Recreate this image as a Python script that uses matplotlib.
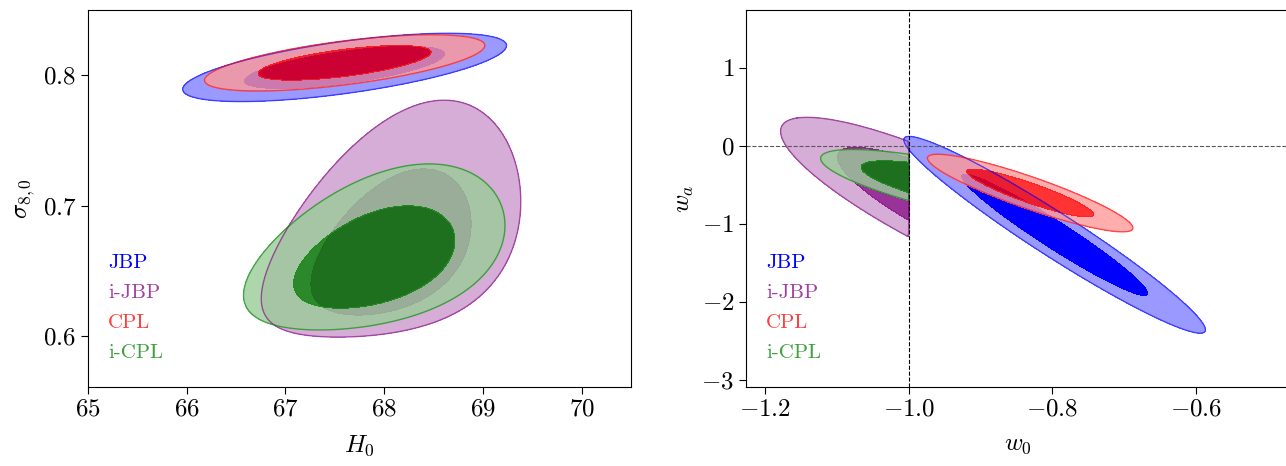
import numpy as np
import matplotlib.pyplot as plt
from matplotlib.colors import to_rgb

plt.rcParams['font.family'] = 'serif'
plt.rcParams['font.serif'] = ['cmr10']
plt.rcParams['mathtext.fontset'] = 'cm'
plt.rcParams['axes.formatter.use_mathtext'] = True

# models (legend order) and the order they are stacked in
labels = ['JBP', 'i-JBP', 'CPL', 'i-CPL']
colors = ['blue', 'purple', 'red', 'green']
draw_order = [1, 3, 0, 2]
conf_levels = [0.68, 0.95]

# H0 - sigma8 posteriors (gaussian approx: mean, sigma, correlation, skew in sigma8)
h0_mean = [67.6, 68.07, 67.6, 67.9]
h0_sig = [0.67, 0.537, 0.58, 0.541]
s8_mean = [0.806, 0.666, 0.8095, 0.658]
s8_sig = [0.0107, 0.0371, 0.0088, 0.026]
h0_s8_corr = [0.64, 0.41, 0.62, 0.42]
s8_skew = [0.0, 0.13, 0.0, 0.08]

# w0 - wa posteriors, i-models have the prior w0 < -1
w0_mean = [-0.797, -0.923, -0.831, -0.925]
w0_sig = [0.0857, 0.094, 0.0584, 0.0698]
wa_mean = [-1.14, -0.876, -0.605, -0.555]
wa_sig = [0.515, 0.457, 0.203, 0.1795]
w0_wa_corr = [-0.965, -0.856, -0.90, -0.775]
w0_upper = [None, -1.0, None, -1.0]


def posterior_grid(mx, sx, my, sy, rho, skew=0.0, xmax=None):
    a, b = np.meshgrid(np.linspace(-4.5, 4.5, 700), np.linspace(-4.5, 4.5, 700))
    X = mx + sx * (rho * a + np.sqrt(1 - rho**2) * b)
    Y = my + sy * (a + skew * (a**2 - 1))
    P = np.exp(-0.5 * (a**2 + b**2))
    if xmax is not None:
        P[X > xmax] = 0
    # density thresholds that enclose 68% and 95% of the mass
    p = np.sort(P.ravel())[::-1]
    cum = np.cumsum(p) / p.sum()
    lev = [p[np.searchsorted(cum, c)] for c in conf_levels]
    return X, Y, P, lev


def draw_panel(ax, xm, xs, ym, ys, corr, skew, xmax):
    grids = {}
    for i in draw_order:
        X, Y, P, lev = posterior_grid(xm[i], xs[i], ym[i], ys[i], corr[i], skew[i], xmax[i])
        base = np.array(to_rgb(colors[i]))
        light = 0.4 * base + 0.6
        alpha = 1.0 if i == 0 else 0.8
        ax.contourf(X, Y, P, levels=[lev[1], lev[0], P.max() * 1.01],
                    colors=[(*light, alpha), (*base, alpha)])
        grids[i] = (X, Y, P, lev)
    for i in draw_order:
        X, Y, P, lev = grids[i]
        ax.contour(X, Y, P, levels=[lev[1]], colors=[colors[i]],
                   linewidths=1.0, alpha=0.6)
    for k, lab in enumerate(labels):
        ax.text(0.037, 0.329 - k * 0.08, lab, transform=ax.transAxes,
                color=colors[k], alpha=1.0 if k == 0 else 0.75,
                fontsize=15, va='center')


fig = plt.figure(figsize=(12.86, 4.66), dpi=100)
ax1 = fig.add_axes([0.0684, 0.1695, 0.4222, 0.809])
ax2 = fig.add_axes([0.5801, 0.1695, 0.4222, 0.809])

draw_panel(ax1, h0_mean, h0_sig, s8_mean, s8_sig, h0_s8_corr, s8_skew, [None] * 4)
ax1.set_xlim(65, 70.5)
ax1.set_ylim(0.561, 0.85)
ax1.set_xticks([65, 66, 67, 68, 69, 70])
ax1.set_yticks([0.6, 0.7, 0.8])
ax1.set_xlabel(r'$H_0$', fontsize=18, labelpad=9)
ax1.set_ylabel(r'$\sigma_{8,0}$', fontsize=18, labelpad=4)

draw_panel(ax2, w0_mean, w0_sig, wa_mean, wa_sig, w0_wa_corr, [0.0] * 4, w0_upper)
ax2.axvline(-1, color='k', ls='--', lw=0.8)
ax2.axhline(0, color='0.35', ls='--', lw=0.8)
ax2.set_xlim(-1.2264, -0.471)
ax2.set_ylim(-3.09, 1.74)
ax2.set_xticks([-1.2, -1.0, -0.8, -0.6])
ax2.set_yticks([-3, -2, -1, 0, 1])
ax2.set_xlabel(r'$w_0$', fontsize=18, labelpad=9)
ax2.set_ylabel(r'$w_a$', fontsize=18, labelpad=4)

for ax in (ax1, ax2):
    ax.tick_params(labelsize=18, length=5)

fig.savefig('out.png', dpi=100)
